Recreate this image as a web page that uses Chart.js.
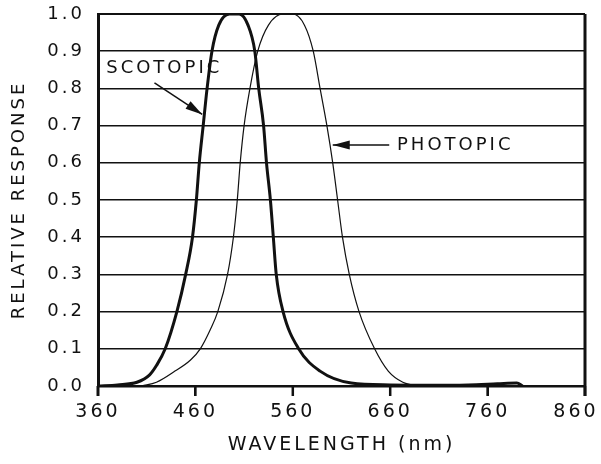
<!DOCTYPE html>
<html>
<head>
<meta charset="utf-8">
<script src="https://cdn.jsdelivr.net/npm/chart.js@4/dist/chart.umd.min.js"></script>
<style>
  html, body { margin: 0; padding: 0; background: #fff; }
  #wrap { width: 601px; height: 464px; }
</style>
</head>
<body>
<div id="wrap"><canvas id="sensChart" width="601" height="464"></canvas></div>
<script>
// wavelength (nm) / relative response
const scotopicWavelength = [360, 380, 400, 413, 420, 429, 441, 450, 457, 461, 464, 468, 472, 477, 484, 495, 505, 514, 521, 525, 530, 533, 537, 540, 543, 550, 566, 588, 620, 660, 700, 740, 770, 790, 796];
const scotopicResponse   = [0.0, 0.003, 0.01, 0.03, 0.055, 0.1, 0.2, 0.3, 0.4, 0.5, 0.6, 0.7, 0.8, 0.9, 0.97, 1.0, 1.0, 0.97, 0.9, 0.8, 0.7, 0.6, 0.5, 0.4, 0.3, 0.2, 0.1, 0.04, 0.008, 0.003, 0.002, 0.003, 0.006, 0.008, 0.0];

const photopicWavelength = [405, 420, 439, 455, 465, 475, 483, 493, 499, 503, 506, 510, 516, 524, 535, 550, 560, 572, 581, 588, 595, 601, 606, 611, 618, 628, 644, 658, 673, 690];
const photopicResponse   = [0.0, 0.01, 0.04, 0.07, 0.1, 0.15, 0.2, 0.3, 0.4, 0.5, 0.6, 0.7, 0.8, 0.9, 0.97, 1.0, 1.0, 0.97, 0.9, 0.8, 0.7, 0.6, 0.5, 0.4, 0.3, 0.2, 0.1, 0.04, 0.01, 0.0];

const xTicks = [360, 460, 560, 660, 760, 860];

const ink = "#111";
const font = "DejaVu Sans";
const spacing = "3px"; // the hand lettering is wide

function toPoints(xs, ys) {
  return xs.map((x, i) => ({ x: x, y: ys[i] }));
}

// labels + arrows, placed in data units
const notes = [
  { text: "SCOTOPIC", x: 428, y: 0.855, align: "center", from: [418, 0.815], to: [467, 0.73] },
  { text: "PHOTOPIC", x: 667, y: 0.648, align: "left", from: [659, 0.648], to: [601, 0.648] },
];

const spacingPlugin = {
  id: "spacing",
  beforeUpdate(chart) { chart.ctx.letterSpacing = spacing; },
  beforeDraw(chart) { chart.ctx.letterSpacing = spacing; },
};

const notesPlugin = {
  id: "notes",
  afterDraw(chart) {
    const { ctx, chartArea, scales } = chart;
    ctx.save();
    ctx.strokeStyle = ink;
    ctx.fillStyle = ink;

    // right + top of the frame
    ctx.lineWidth = 3;
    ctx.beginPath();
    ctx.moveTo(chartArea.right, chartArea.top);
    ctx.lineTo(chartArea.right, chartArea.bottom + 10);
    ctx.stroke();
    ctx.lineWidth = 2;
    ctx.beginPath();
    ctx.moveTo(chartArea.left, chartArea.top);
    ctx.lineTo(chartArea.right, chartArea.top);
    ctx.stroke();

    // tick marks under the x axis
    xTicks.forEach((v) => {
      const px = scales.x.getPixelForValue(v);
      ctx.lineWidth = v === 360 ? 3 : 2.5;
      ctx.beginPath();
      ctx.moveTo(px, chartArea.bottom);
      ctx.lineTo(px, chartArea.bottom + 10);
      ctx.stroke();
    });

    notes.forEach((n) => {
      ctx.font = "18px '" + font + "'";
      ctx.letterSpacing = spacing;
      ctx.textAlign = n.align;
      ctx.textBaseline = "middle";
      ctx.fillText(n.text, scales.x.getPixelForValue(n.x), scales.y.getPixelForValue(n.y));

      const x0 = scales.x.getPixelForValue(n.from[0]);
      const y0 = scales.y.getPixelForValue(n.from[1]);
      const x1 = scales.x.getPixelForValue(n.to[0]);
      const y1 = scales.y.getPixelForValue(n.to[1]);
      const ang = Math.atan2(y1 - y0, x1 - x0);
      ctx.lineWidth = 1.5;
      ctx.beginPath();
      ctx.moveTo(x0, y0);
      ctx.lineTo(x1, y1);
      ctx.stroke();
      ctx.beginPath();
      ctx.moveTo(x1, y1);
      ctx.lineTo(x1 - 17 * Math.cos(ang) + 4.5 * Math.sin(ang), y1 - 17 * Math.sin(ang) - 4.5 * Math.cos(ang));
      ctx.lineTo(x1 - 17 * Math.cos(ang) - 4.5 * Math.sin(ang), y1 - 17 * Math.sin(ang) + 4.5 * Math.cos(ang));
      ctx.closePath();
      ctx.fill();
    });
    ctx.restore();
  },
};

new Chart(document.getElementById("sensChart").getContext("2d"), {
  type: "line",
  data: {
    datasets: [
      {
        label: "Scotopic",
        data: toPoints(scotopicWavelength, scotopicResponse),
        borderColor: ink,
        borderWidth: 3,
        pointRadius: 0,
        cubicInterpolationMode: "monotone",
      },
      {
        label: "Photopic",
        data: toPoints(photopicWavelength, photopicResponse),
        borderColor: ink,
        borderWidth: 1.2,
        pointRadius: 0,
        cubicInterpolationMode: "monotone",
      },
    ],
  },
  options: {
    responsive: false,
    animation: false,
    layout: { padding: { top: 14, right: 16, left: 0, bottom: 0 } },
    plugins: {
      legend: { display: false },
      tooltip: { enabled: false },
    },
    scales: {
      x: {
        type: "linear",
        min: 360,
        max: 860,
        afterBuildTicks: (scale) => {
          scale.ticks = xTicks.map((v) => ({ value: v }));
        },
        afterFit: (scale) => {
          scale.height = 78;
          scale.paddingRight = 0;
          scale.paddingLeft = 0;
        },
        grid: { drawOnChartArea: false, color: ink, lineWidth: 2, tickLength: 10 },
        border: { color: ink, width: 2.5 },
        ticks: {
          color: ink,
          font: { family: font, size: 19 },
          padding: 5,
          maxRotation: 0,
          // last label sits a little left of its tick in the drawing
          callback: (v) => (v === 860 ? "860  " : String(v)),
        },
        title: { display: true, text: "WAVELENGTH (nm)", color: ink, font: { family: font, size: 19 }, padding: { top: 0, bottom: 8 } },
      },
      y: {
        min: 0,
        max: 1,
        afterFit: (scale) => {
          scale.width = 98;
          scale.paddingTop = 0;
          scale.paddingBottom = 0;
        },
        grid: { color: ink, lineWidth: 1.5, drawTicks: false },
        border: { color: ink, width: 3 },
        ticks: {
          stepSize: 0.1,
          color: ink,
          padding: 13,
          font: { family: font, size: 18 },
          callback: (v) => v.toFixed(1),
        },
        title: { display: true, text: "RELATIVE RESPONSE", color: ink, font: { family: font, size: 18 }, padding: { top: 9, bottom: 0 } },
      },
    },
  },
  plugins: [spacingPlugin, notesPlugin],
});
</script>
</body>
</html>
